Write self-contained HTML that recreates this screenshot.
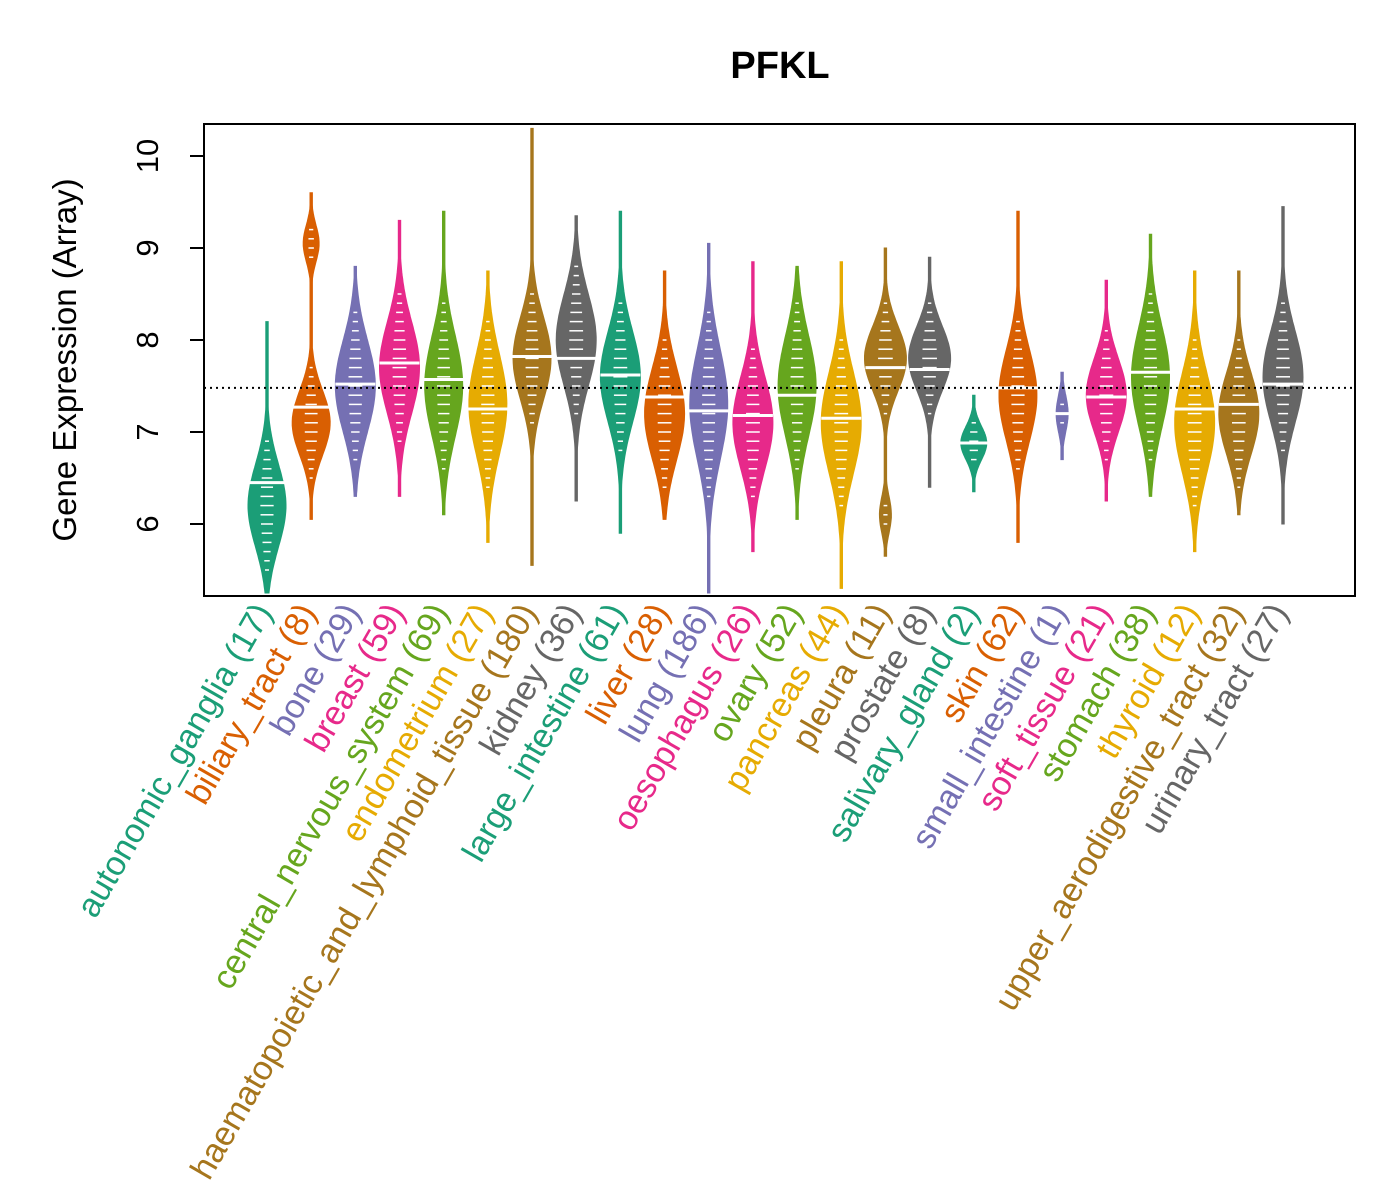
<!DOCTYPE html>
<html><head><meta charset="utf-8"><style>
html,body{margin:0;padding:0;background:#fff;}
svg{display:block;font-family:"Liberation Sans",Arial,sans-serif;}
</style></head><body>
<svg id="chart" width="1400" height="1200" viewBox="0 0 1400 1200">
<rect width="1400" height="1200" fill="#fff"/>
<text x="780" y="78" font-size="38" font-weight="bold" text-anchor="middle">PFKL</text>
<text transform="translate(76,360) rotate(-90)" font-size="33" text-anchor="middle">Gene Expression (Array)</text>
<g id="plot"></g>
<rect x="204" y="124" width="1151" height="472" fill="none" stroke="#000" stroke-width="2"/>
</svg>
<script>
const categories=["autonomic_ganglia","biliary_tract","bone","breast","central_nervous_system","endometrium","haematopoietic_and_lymphoid_tissue","kidney","large_intestine","liver","lung","oesophagus","ovary","pancreas","pleura","prostate","salivary_gland","skin","small_intestine","soft_tissue","stomach","thyroid","upper_aerodigestive_tract","urinary_tract"];
const counts=[17,8,29,59,69,27,180,36,61,28,186,26,52,44,11,8,2,62,1,21,38,12,32,27];
const medians=[6.45,7.27,7.52,7.75,7.57,7.25,7.82,7.8,7.62,7.38,7.23,7.18,7.4,7.15,7.7,7.68,6.88,7.48,7.2,7.38,7.65,7.25,7.3,7.52];
const mins=[5.25,6.05,6.3,6.3,6.1,5.8,5.55,6.25,5.9,6.05,5.25,5.7,6.05,5.3,5.65,6.4,6.35,5.8,6.7,6.25,6.3,5.7,6.1,6.0];
const maxs=[8.2,9.6,8.8,9.3,9.4,8.75,10.3,9.35,9.4,8.75,9.05,8.85,8.8,8.85,9.0,8.9,7.4,9.4,7.65,8.65,9.15,8.75,8.75,9.45];
const modeCenters=[[6.2],[7.1,9.05],[7.5],[7.7],[7.5],[7.3],[7.8],[8.0],[7.6],[7.2],[7.3],[7.1],[7.5],[7.1],[7.8,6.1],[7.8],[6.88],[7.4],[7.2],[7.4],[7.6],[7.1],[7.2],[7.6]];
const modeWidths=[[19],[19,8],[20],[20],[19],[19],[19],[20],[20],[20],[19],[20],[19],[20],[21,6],[21],[13],[19],[6],[20],[19],[20],[20],[20]];
const modeSpreads=[[0.45],[0.35,0.2],[0.5],[0.5],[0.55],[0.55],[0.45],[0.5],[0.5],[0.5],[0.6],[0.5],[0.55],[0.55],[0.35,0.2],[0.35],[0.18],[0.5],[0.2],[0.4],[0.55],[0.55],[0.45],[0.5]];
const yTicks=[6,7,8,9,10];
const colors=["#1B9E77","#D95F02","#7570B3","#E7298A","#66A61E","#E6AB02","#A6761D","#666666"];
const overall=7.48;
const NS="http://www.w3.org/2000/svg";
const X0=204,X1=1355;
function yS(v){return 156+(10-v)*92;}
function xS(i){return 267+i*(1283-267)/(categories.length-1);}
const svg=document.getElementById('plot');
function mk(t,a){const e=document.createElementNS(NS,t);for(const k in a)e.setAttribute(k,a[k]);svg.appendChild(e);return e;}
const ax=mk('line',{x1:204,x2:204,y1:yS(yTicks[0]),y2:yS(yTicks[yTicks.length-1]),stroke:'#000','stroke-width':2});


yTicks.forEach(t=>{
  const l=mk('line',{x1:190,x2:204,y1:yS(t),y2:yS(t),stroke:'#000','stroke-width':2});
  
  
  const tx=mk('text',{transform:`translate(${158},${yS(t)}) rotate(-90)`,'font-size':31,'text-anchor':'middle'});
  tx.textContent=t;
  
  
});
function width(i,v){let w=0;for(let k=0;k<modeCenters[i].length;k++){const d=(v-modeCenters[i][k])/modeSpreads[i][k];w=Math.max(w,modeWidths[i][k]*Math.exp(-d*d/2));}return Math.max(w,1.2);}
categories.forEach((c,i)=>{
  const cx=xS(i),col=colors[i%8];
  const g=document.createElementNS(NS,'g');svg.appendChild(g);
  
  
  const N=80,L=[],R=[];
  for(let s=0;s<=N;s++){const v=mins[i]+(maxs[i]-mins[i])*s/N;const w=width(i,v);L.push([cx-w,yS(v)]);R.push([cx+w,yS(v)]);}
  const pts=L.concat(R.reverse()).map(p=>p[0].toFixed(1)+','+p[1].toFixed(1)).join(' ');
  const p=document.createElementNS(NS,'polygon');p.setAttribute('points',pts);p.setAttribute('fill',col);p.setAttribute('stroke',col);p.setAttribute('stroke-width',1);g.appendChild(p);
  for(let v=Math.ceil(mins[i]*10)/10;v<=maxs[i];v+=0.1){
    const w=width(i,v);if(w<4)continue;
    const l=document.createElementNS(NS,'line');l.setAttribute('x1',cx-w*0.35);l.setAttribute('x2',cx+w*0.35);l.setAttribute('y1',yS(v));l.setAttribute('y2',yS(v));l.setAttribute('stroke','#fff');l.setAttribute('stroke-width',1.5);g.appendChild(l);
  }
  const m=document.createElementNS(NS,'line');m.setAttribute('x1',cx-20);m.setAttribute('x2',cx+20);m.setAttribute('y1',yS(medians[i]));m.setAttribute('y2',yS(medians[i]));m.setAttribute('stroke','#fff');m.setAttribute('stroke-width',3);g.appendChild(m);
  
  
  const t=mk('text',{transform:`translate(${cx+6},${612}) rotate(-60)`,'font-size':34,'text-anchor':'end',fill:col});
  t.textContent=c+' ('+counts[i]+')';
  
  
});
const ref=mk('line',{x1:X0,x2:X1,y1:yS(overall),y2:yS(overall),stroke:'#000','stroke-width':2,'stroke-dasharray':'2,4'});


</script>
</body></html>
